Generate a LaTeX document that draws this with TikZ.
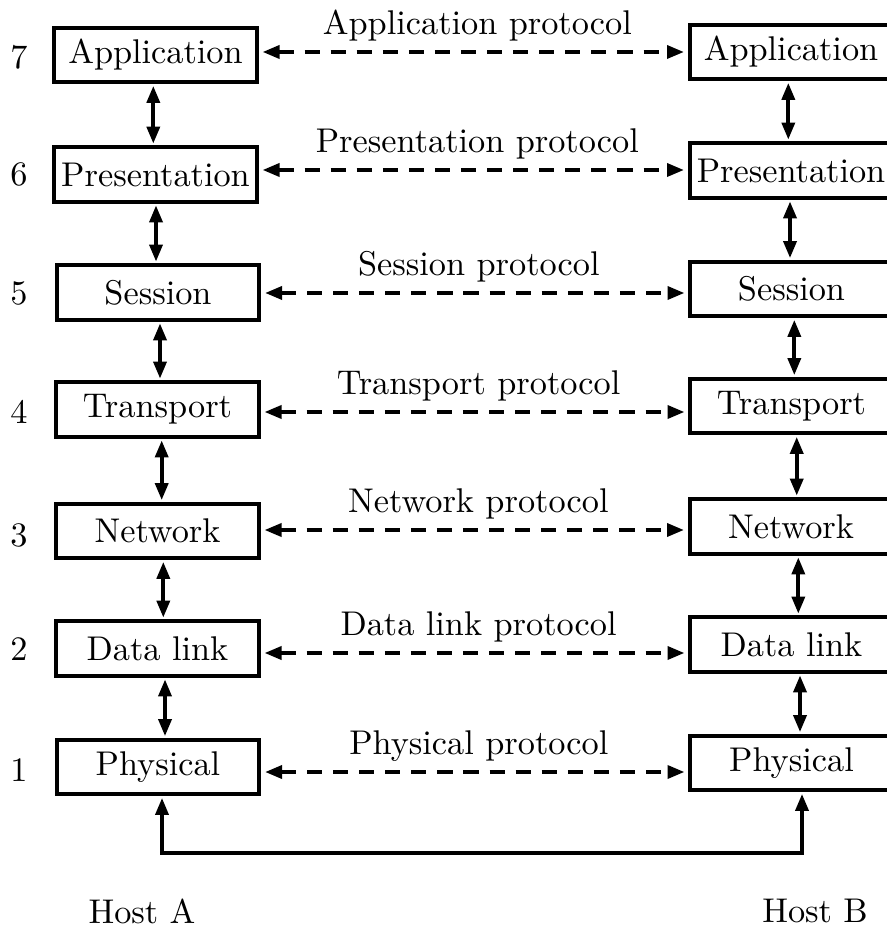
\documentclass[tikz,border=0pt]{standalone}
\usetikzlibrary{arrows.meta}
\begin{document}
\begin{tikzpicture}[x=0.2915pt, y=-0.2915pt,
  layer/.style={draw, line width=1.2pt, minimum width=59.1pt, minimum height=15.9pt, inner sep=0pt},
  link/.style={line width=1.2pt,
    {Triangle[length=5pt,width=3.7pt]}-{Triangle[length=5pt,width=3.7pt]},
    shorten <=0.4pt, shorten >=0.4pt},
  proto/.style={link, dash pattern=on 4.4pt off 3.2pt, shorten <=1pt, shorten >=1pt},
  lbl/.style={midway, anchor=base, yshift=5pt, xshift=1.2pt}]
\useasboundingbox (0,0) rectangle (886,926);

% Host A stack
\node[layer] (L7) at (155.5,55)  {Application};
\node[layer] (L6) at (155.5,174.5) {Presentation};
\node[layer] (L5) at (158,292.5) {Session};
\node[layer] (L4) at (157.5,409.5) {Transport};
\node[layer] (L3) at (157.5,531) {Network};
\node[layer] (L2) at (157.5,648.5) {Data link};
\node[layer] (L1) at (158,767) {Physical};

% Host B stack
\node[layer] (R7) at (791,52)    {Application};
\node[layer] (R6) at (791,170.5) {Presentation};
\node[layer] (R5) at (791.5,289) {Session};
\node[layer] (R4) at (791.5,406) {Transport};
\node[layer] (R3) at (791,526.5) {Network};
\node[layer] (R2) at (791.5,644.5) {Data link};
\node[layer] (R1) at (791.5,763) {Physical};

% layer numbers
\node (n7) at (19,57)  {7};
\node (n6) at (19,174) {6};
\node (n5) at (19,293) {5};
\node (n4) at (19,412) {4};
\node (n3) at (19,535) {3};
\node (n2) at (19,649) {2};
\node (n1) at (19,770) {1};

% host names
\node (hA) at (142,911) {Host A};
\node (hB) at (815,911) {Host B};

% interfaces inside each host
\draw[link] (L7.south -| 153.3,0) -- (L6.north -| 153.3,0);
\draw[link] (L6.south -| 156,0)   -- (L5.north -| 156,0);
\draw[link] (L5.south -| 160,0)   -- (L4.north -| 160,0);
\draw[link] (L4.south -| 161.7,0) -- (L3.north -| 161.7,0);
\draw[link] (L3.south -| 163.3,0) -- (L2.north -| 163.3,0);
\draw[link] (L2.south -| 165,0)   -- (L1.north -| 165,0);

\draw[link] (R7.south -| 788.3,0) -- (R6.north -| 788.3,0);
\draw[link] (R6.south -| 790,0)   -- (R5.north -| 790,0);
\draw[link] (R5.south -| 794.3,0) -- (R4.north -| 794.3,0);
\draw[link] (R4.south -| 796.7,0) -- (R3.north -| 796.7,0);
\draw[link] (R3.south -| 798.3,0) -- (R2.north -| 798.3,0);
\draw[link] (R2.south -| 800,0)   -- (R1.north -| 800,0);

% peer protocols
\draw[proto] (L7.east |- 0,52)  -- (R7.west |- 0,52)  node[lbl] (p7) {Application protocol};
\draw[proto] (L6.east |- 0,170) -- (R6.west |- 0,170) node[lbl] (p6) {Presentation protocol};
\draw[proto] (L5.east |- 0,293) -- (R5.west |- 0,293) node[lbl] (p5) {Session protocol};
\draw[proto] (L4.east |- 0,412) -- (R4.west |- 0,412) node[lbl] (p4) {Transport protocol};
\draw[proto] (L3.east |- 0,530) -- (R3.west |- 0,530) node[lbl] (p3) {Network protocol};
\draw[proto] (L2.east |- 0,653) -- (R2.west |- 0,653) node[lbl] (p2) {Data link protocol};
\draw[proto] (L1.east |- 0,772) -- (R1.west |- 0,772) node[lbl] (p1) {Physical protocol};

% physical medium
\coordinate (wire) at (480,853);
\draw[link] (L1.south -| 162,0) |- (wire) -| (R1.south -| 802,0);
\end{tikzpicture}
\end{document}
